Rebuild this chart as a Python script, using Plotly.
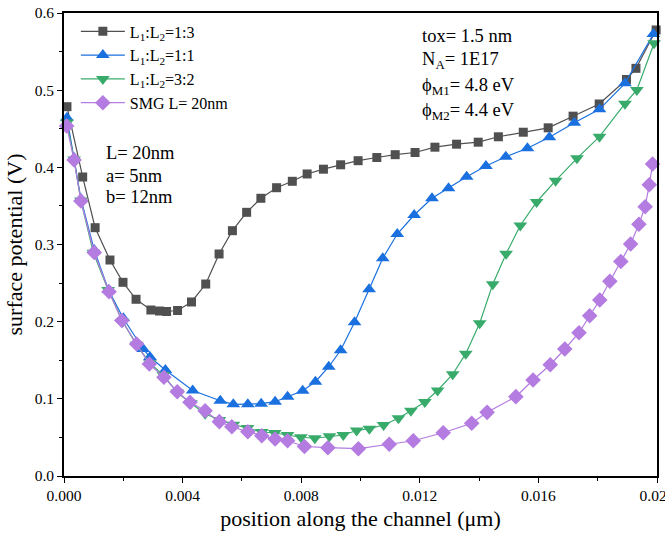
import plotly.graph_objects as go

# L1:L2 = 1:3 (squares)
x_13 = [0.0001, 0.00063, 0.00105, 0.00155, 0.00199, 0.00243, 0.00293, 0.00322, 0.00346, 0.00383,
        0.0043, 0.00478, 0.00523, 0.00568, 0.00616, 0.00664, 0.00717, 0.0077, 0.0082, 0.00875,
        0.00933, 0.00992, 0.01055, 0.01117, 0.01184, 0.01251, 0.01324, 0.01397, 0.01465, 0.01549,
        0.01633, 0.01717, 0.01805, 0.01897, 0.01929, 0.01997]
y_13 = [0.4786, 0.3875, 0.3218, 0.2799, 0.2510, 0.2290, 0.2151, 0.2138, 0.2132, 0.2145,
        0.2255, 0.2488, 0.2877, 0.3179, 0.3417, 0.3599, 0.3736, 0.3819, 0.3914, 0.3976,
        0.4033, 0.4086, 0.4127, 0.4164, 0.4192, 0.4261, 0.4300, 0.4326, 0.4396, 0.4455,
        0.4512, 0.4663, 0.4821, 0.5138, 0.5283, 0.578]

# L1:L2 = 1:1 (up triangles)
x_11 = [0.0001, 0.00034, 0.00057, 0.00102, 0.0015, 0.002, 0.00267, 0.0029, 0.00342, 0.00434,
        0.00527, 0.00571, 0.0062, 0.00665, 0.00712, 0.00754, 0.00805, 0.00848, 0.00893, 0.00933,
        0.0098, 0.01029, 0.01075, 0.01124, 0.01181, 0.01241, 0.01297, 0.01358, 0.01423, 0.0149,
        0.01563, 0.01637, 0.01721, 0.01806, 0.01892, 0.01988]
y_11 = [0.4643, 0.412, 0.359, 0.2929, 0.241, 0.2044, 0.1646, 0.1542, 0.1374, 0.1108,
        0.0976, 0.0929, 0.0929, 0.0937, 0.0963, 0.1026, 0.1105, 0.1222, 0.1416, 0.1629,
        0.1992, 0.2419, 0.2821, 0.3136, 0.3382, 0.3599, 0.3728, 0.3879, 0.4017, 0.4138,
        0.4247, 0.4389, 0.4578, 0.4752, 0.5089, 0.5728]

# L1:L2 = 3:2 (down triangles)
x_32 = [0.0001, 0.00034, 0.00057, 0.00099, 0.00149, 0.00198, 0.00245, 0.0029, 0.00335, 0.00382,
        0.00428, 0.00476, 0.00524, 0.00571, 0.00619, 0.00667, 0.00711, 0.00754, 0.00799, 0.00846,
        0.00895, 0.00942, 0.00987, 0.0103, 0.01078, 0.01128, 0.0117, 0.01217, 0.0126, 0.01311,
        0.01355, 0.01402, 0.01446, 0.01491, 0.01539, 0.01594, 0.01658, 0.0173, 0.01806, 0.01892,
        0.01932, 0.0199]
y_32 = [0.458, 0.41, 0.357, 0.2894, 0.241, 0.2, 0.17, 0.146, 0.1309, 0.1082,
        0.0942, 0.0807, 0.0726, 0.0665, 0.0622, 0.057, 0.0557, 0.0531, 0.0502, 0.0489,
        0.0514, 0.0531, 0.059, 0.0613, 0.0661, 0.0748, 0.0845, 0.0959, 0.1108, 0.1319,
        0.1585, 0.1979, 0.2486, 0.2879, 0.3246, 0.3551, 0.3827, 0.4117, 0.4397, 0.4825,
        0.5002, 0.5607]

# SMG L = 20nm (diamonds)
x_smg = [0.00009, 0.00034, 0.00057, 0.00102, 0.00152, 0.00195, 0.00245, 0.00288, 0.00337, 0.00382,
         0.00425, 0.00476, 0.00524, 0.00566, 0.0062, 0.00667, 0.00712, 0.00754, 0.00811, 0.0089,
         0.00993, 0.01097, 0.01178, 0.01279, 0.01375, 0.01427, 0.01524, 0.01582, 0.0164, 0.01689,
         0.01737, 0.01773, 0.01807, 0.01841, 0.01878, 0.01911, 0.01939, 0.0196, 0.01974, 0.01985]
y_smg = [0.4536, 0.4095, 0.3564, 0.2896, 0.2388, 0.2015, 0.1711, 0.1451, 0.1279, 0.1092,
         0.0955, 0.0846, 0.0704, 0.0639, 0.0574, 0.0522, 0.0479, 0.0457, 0.0382, 0.0367,
         0.0354, 0.0411, 0.0457, 0.0561, 0.0683, 0.0825, 0.1028, 0.1244, 0.1442, 0.1646,
         0.1857, 0.2076, 0.2281, 0.2523, 0.2780, 0.3006, 0.3263, 0.3490, 0.3774, 0.4043]

x_ticks = [0.000, 0.004, 0.008, 0.012, 0.016, 0.020]
y_ticks = [0.0, 0.1, 0.2, 0.3, 0.4, 0.5, 0.6]

FONT = "Liberation Serif"

series = [
    ("L<sub>1</sub>:L<sub>2</sub>=1:3", x_13, y_13, "#505050", "square", 9),
    ("L<sub>1</sub>:L<sub>2</sub>=1:1", x_11, y_11, "#1b70e0", "triangle-up", 12),
    ("L<sub>1</sub>:L<sub>2</sub>=3:2", x_32, y_32, "#38ab6b", "triangle-down", 12),
    ("SMG L= 20nm", x_smg, y_smg, "#b47be0", "diamond", 12),
]

fig = go.Figure()
for name, xs, ys, col, sym, sz in series:
    fig.add_trace(go.Scatter(
        x=xs, y=ys, name=name, mode="lines+markers",
        line=dict(color=col, width=1.2),
        marker=dict(symbol=sym, size=sz, color=col, line=dict(width=0)),
        cliponaxis=False,
    ))

axis_common = dict(
    showline=True, linecolor="black", linewidth=1.6, mirror=True,
    ticks="outside", ticklen=5, tickwidth=1.2, tickcolor="black",
    showgrid=False, zeroline=False, automargin=False,
    ticklabeloverflow="allow",
    tickfont=dict(family=FONT, size=15.5, color="black"),
)

fig.update_xaxes(
    range=[0, 0.020], tickvals=x_ticks, ticktext=[f"{v:.3f}" for v in x_ticks],
    minor=dict(ticks="outside", ticklen=3, tickcolor="black", dtick=0.002, tick0=0),
    title=dict(text="position along the channel (μm)", font=dict(family=FONT, size=22, color="black"), standoff=7),
    **axis_common,
)
fig.update_yaxes(
    range=[0, 0.6], tickvals=y_ticks, ticktext=[f"{v:.1f}" for v in y_ticks],
    minor=dict(ticks="outside", ticklen=3, tickcolor="black", dtick=0.05, tick0=0),
    title=dict(text="surface potential (V)", font=dict(family=FONT, size=22, color="black"), standoff=6),
    **axis_common,
)

annots = [
    ("L= 20nm", 104, 153), ("a= 5nm", 104, 176), ("b= 12nm", 104, 197),
    ("tox= 1.5 nm", 420, 36), ("N<sub>A</sub>= 1E17", 420, 60),
    ("ϕ<sub>M1</sub>= 4.8 eV", 420, 86), ("ϕ<sub>M2</sub>= 4.4 eV", 420, 111),
]
L, R, T, B = 64, 657, 13, 476
W, H = 665, 537
for txt, px, py in annots:
    fig.add_annotation(
        x=(px - L) / (R - L), y=(B - py) / (B - T), xref="paper", yref="paper",
        text=txt, showarrow=False, xanchor="left", yanchor="middle",
        font=dict(family=FONT, size=18.5, color="black"),
    )

fig.update_layout(
    width=W, height=H,
    margin=dict(l=L, r=W - R, t=T, b=H - B, autoexpand=False),
    paper_bgcolor="white", plot_bgcolor="white",
    showlegend=True,
    legend=dict(
        x=0.02, y=0.997, xanchor="left", yanchor="top",
        font=dict(family=FONT, size=16, color="black"),
        bgcolor="rgba(0,0,0,0)", tracegroupgap=0, itemwidth=44,
    ),
    font=dict(family=FONT, color="black"),
)

fig.write_html(
    "out.html",
    config={"displayModeBar": False},
    post_script="document.body.style.margin='0px';document.body.style.overflow='hidden';",
)
